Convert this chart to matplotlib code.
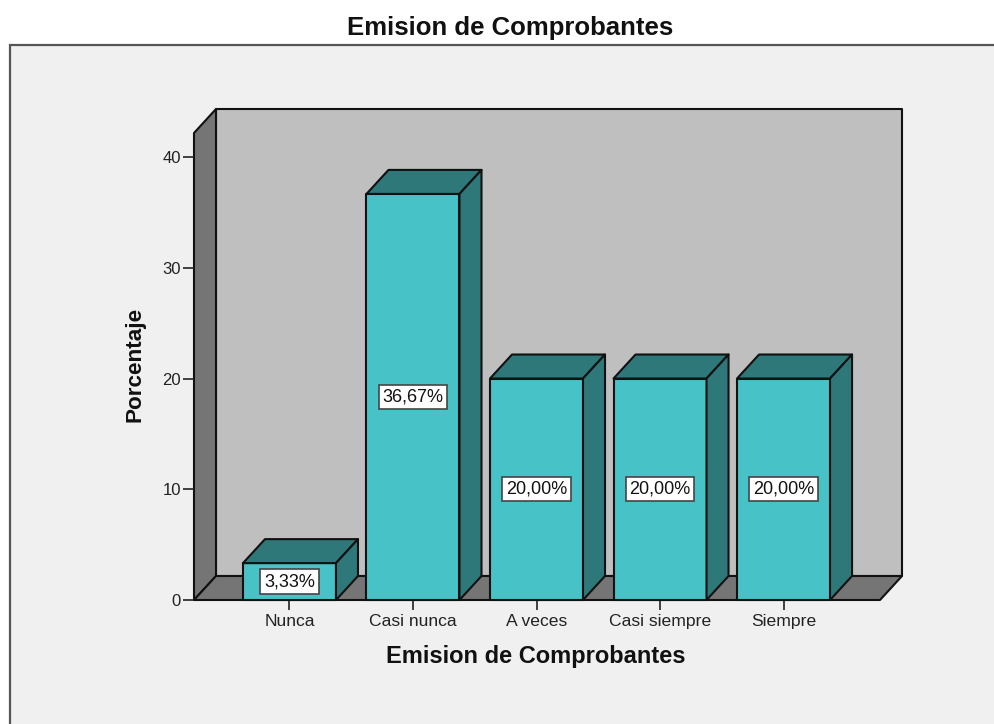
#!/usr/bin/env python

# 3D-look bar chart of the percentages for Emision de Comprobantes

import matplotlib
matplotlib.use('Agg')
import matplotlib.pyplot as plt
from matplotlib.patches import Polygon, Rectangle

categories = ['Nunca', 'Casi nunca', 'A veces', 'Casi siempre', 'Siempre']
percent = [3.33, 36.67, 20.00, 20.00, 20.00]
percent_labels = ['3,33%', '36,67%', '20,00%', '20,00%', '20,00%']
y_ticks = [0, 10, 20, 30, 40]

front_col = '#47c3c8'
dark_col = '#2e787a'
wall_col = '#bfbfbf'
floor_col = '#757575'
panel_col = '#f0f0f0'
line_col = '#111111'

W, H = 995, 724
plt.rcParams['font.family'] = ['Liberation Sans', 'DejaVu Sans']

fig = plt.figure(figsize=(W/100, H/100), dpi=100, facecolor='white')

# Grey panel behind the chart, runs off the right and bottom edges
fig.add_artist(Rectangle((10/W, -0.05), 1.05, (H-45)/H+0.05,
                         transform=fig.transFigure, facecolor=panel_col,
                         edgecolor='#555555', linewidth=1.6, zorder=-1))
fig.text(510/W, 1-28/H, 'Emision de Comprobantes', ha='center', va='center',
         fontsize=18.5, fontweight='bold', color='#111111')

# Axes box is the front plane of the chart
ax = fig.add_axes([194/W, 1-600/H, (880-194)/W, (600-133)/H])
ax.patch.set_visible(False)
ax.set_xlim(-0.773, 4.781)
ax.set_ylim(0, 42.17)
for s in ax.spines.values():
    s.set_visible(False)

# Depth of the box, in data units
dx = 22/123.5
dy = 24/11.075
x0, x1 = ax.get_xlim()
y0, y1 = ax.get_ylim()


def poly(pts, col, z):
    ax.add_patch(Polygon(pts, closed=True, facecolor=col, edgecolor=line_col,
                         linewidth=1.5, joinstyle='round', clip_on=False,
                         zorder=z))


# Back wall, left wall and floor
poly([(x0+dx, y0+dy), (x1+dx, y0+dy), (x1+dx, y1+dy), (x0+dx, y1+dy)], wall_col, 1)
poly([(x0, y0), (x0+dx, y0+dy), (x0+dx, y1+dy), (x0, y1)], floor_col, 2)
poly([(x0, y0), (x1, y0), (x1+dx, y0+dy), (x0+dx, y0+dy)], floor_col, 2)

# Bars: front, top and side faces
half = 93/123.5/2
for i, v in enumerate(percent):
    l, r = i-half, i+half
    poly([(l, 0), (r, 0), (r, v), (l, v)], front_col, 5)
    poly([(l, v), (r, v), (r+dx, v+dy), (l+dx, v+dy)], dark_col, 5)
    poly([(r, 0), (r+dx, dy), (r+dx, v+dy), (r, v)], dark_col, 5)
    ax.text(i, v/2, percent_labels[i], ha='center', va='center', fontsize=13,
            color='#111111', zorder=6,
            bbox=dict(boxstyle='square,pad=0.2', facecolor='white',
                      edgecolor='#444444', linewidth=1.2))

ax.set_xticks(range(len(categories)))
ax.set_xticklabels(categories)
ax.set_yticks(y_ticks)
ax.tick_params(axis='x', length=7, width=1.2, color='#222222', pad=3,
               labelsize=12.6, labelcolor='#222222')
ax.tick_params(axis='y', length=8, width=1.2, color='#222222', pad=1.5,
               labelsize=12, labelcolor='#222222')
ax.set_axisbelow(False)

fig.text(536/W, 1-657/H, 'Emision de Comprobantes', ha='center', va='center',
         fontsize=17, fontweight='bold', color='#111111')
fig.text(135/W, 1-364/H, 'Porcentaje', ha='center', va='center', rotation=90,
         fontsize=16.2, fontweight='bold', color='#111111')

fig.savefig('out.png', dpi=100, facecolor=fig.get_facecolor())
